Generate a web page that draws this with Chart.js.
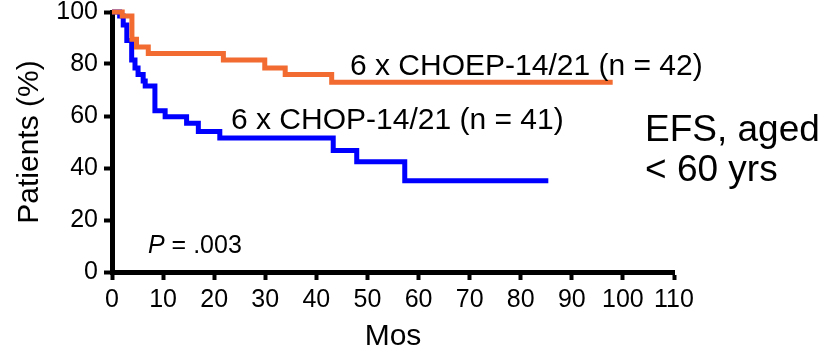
<!DOCTYPE html>
<html>
<head>
<meta charset="utf-8">
<script src="https://cdn.jsdelivr.net/npm/chart.js@4"></script>
<style>
  html, body { margin: 0; padding: 0; background: #fff; }
  #wrap { width: 829px; height: 355px; position: relative; }
</style>
</head>
<body>
<div id="wrap"><canvas id="c" width="829" height="355"></canvas></div>
<script>
// ---- data ----
const choepMonths = [0, 2, 3.9, 4.8, 7.1, 21.8, 29.9, 33.9, 43, 98];
const choepPct    = [100, 98.5, 89.5, 86.5, 84, 81.5, 78.5, 76, 73, 73];

const chopMonths = [0, 1.5, 2.2, 2.9, 3.85, 4.5, 5.1, 6.1, 6.5, 8.4, 10.4, 14.6, 16.9, 21.1, 43.3, 47.9, 57.3, 85.4];
const chopPct    = [100, 98.5, 95, 89, 81.5, 78.5, 76, 73.5, 71.5, 62, 59.7, 57.2, 54, 51.5, 46.7, 42.4, 35.1, 35.1];

const xTicks = [0, 10, 20, 30, 40, 50, 60, 70, 80, 90, 100, 110];
const yTicks = [0, 20, 40, 60, 80, 100];

const seriesNames = ['6 x CHOEP-14/21 (n = 42)', '6 x CHOP-14/21 (n = 41)'];
const xTitle = 'Mos';
const yTitle = 'Patients (%)';
const noteLines = ['EFS, aged', '< 60 yrs'];
const pLetter = 'P';
const pRest = ' = .003';

// ---- build ----
const toPoints = (xs, ys) => xs.map((x, i) => ({ x: x, y: ys[i] }));
const FONT = '"Liberation Sans", Arial, sans-serif';

const textPlugin = {
  id: 'texts',
  afterDraw(chart) {
    const ctx = chart.ctx;
    ctx.save();
    ctx.fillStyle = '#000';
    ctx.textBaseline = 'alphabetic';
    ctx.textAlign = 'left';
    ctx.font = '30px ' + FONT;
    ctx.fillText(seriesNames[0], 350, 75);
    ctx.fillText(seriesNames[1], 231, 129);
    ctx.font = '37px ' + FONT;
    ctx.fillText(noteLines[0], 645, 141);
    ctx.fillText(noteLines[1], 645, 181);
    ctx.font = 'italic 25px ' + FONT;
    ctx.fillText(pLetter, 148, 253);
    const w = ctx.measureText(pLetter).width;
    ctx.font = '25px ' + FONT;
    ctx.fillText(pRest, 148 + w, 253);
    ctx.restore();
  }
};

new Chart(document.getElementById('c'), {
  type: 'line',
  data: {
    datasets: [
      {
        label: seriesNames[0],
        data: toPoints(choepMonths, choepPct),
        borderColor: '#F26B30',
        borderWidth: 5,
        stepped: 'before',
        pointRadius: 0,
        fill: false,
        clip: false,
        borderJoinStyle: 'miter',
        borderCapStyle: 'butt'
      },
      {
        label: seriesNames[1],
        data: toPoints(chopMonths, chopPct),
        borderColor: '#0000FF',
        borderWidth: 5,
        stepped: 'before',
        pointRadius: 0,
        fill: false,
        clip: false,
        borderJoinStyle: 'miter',
        borderCapStyle: 'butt'
      }
    ]
  },
  options: {
    responsive: false,
    animation: false,
    devicePixelRatio: 1,
    layout: { padding: { top: 12, right: 155, left: 0, bottom: 0 } },
    plugins: { legend: { display: false }, tooltip: { enabled: false } },
    scales: {
      x: {
        type: 'linear',
        min: 0, max: 110,
        afterBuildTicks(scale) { scale.ticks = xTicks.map(v => ({ value: v })); },
        afterFit(scale) { scale.height = 83; scale.paddingLeft = 0; },
        border: { display: true, color: '#000', width: 5 },
        grid: { display: true, drawOnChartArea: false, drawTicks: true, tickLength: 8, tickWidth: 4, tickColor: '#000' },
        ticks: { color: '#000', font: { family: FONT, size: 25 }, padding: 5, maxRotation: 0, autoSkip: false },
        title: { display: true, text: xTitle, color: '#000', font: { family: FONT, size: 30 }, padding: { top: 0, bottom: 0 } }
      },
      y: {
        type: 'linear',
        min: 0, max: 100,
        afterBuildTicks(scale) { scale.ticks = yTicks.map(v => ({ value: v })); },
        afterFit(scale) { scale.width = 112; scale.paddingTop = 0; scale.paddingBottom = 0; },
        border: { display: true, color: '#000', width: 5 },
        grid: { display: true, drawOnChartArea: false, drawTicks: true, tickLength: 8, tickWidth: 4, tickColor: '#000' },
        ticks: { color: '#000', font: { family: FONT, size: 25 }, padding: 6, autoSkip: false },
        title: { display: true, text: yTitle, color: '#000', font: { family: FONT, size: 30 }, padding: { top: 12, bottom: 0 } }
      }
    }
  },
  plugins: [textPlugin]
});
</script>
</body>
</html>
